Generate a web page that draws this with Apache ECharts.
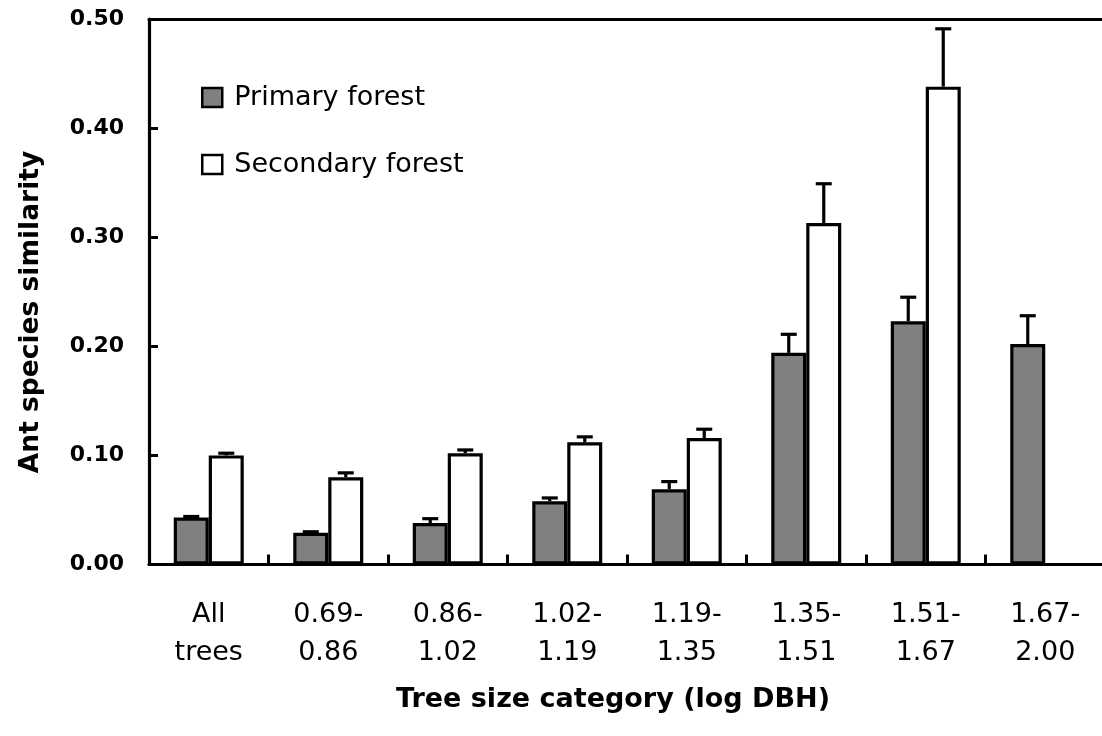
<!DOCTYPE html>
<html>
<head>
<meta charset="utf-8">
<script src="https://cdn.jsdelivr.net/npm/echarts@6/dist/echarts.min.js"></script>
<style>
html,body{margin:0;padding:0;background:#fff;overflow:hidden;}
#chart{width:1106px;height:736px;}
</style>
</head>
<body>
<div id="chart"></div>
<script>
// ---- data ----
const categories = ['All\ntrees', '0.69-\n0.86', '0.86-\n1.02', '1.02-\n1.19', '1.19-\n1.35', '1.35-\n1.51', '1.51-\n1.67', '1.67-\n2.00'];
const primaryForest = [0.043, 0.029, 0.038, 0.058, 0.069, 0.194, 0.223, 0.202];
const primaryErr = [0.001, 0.001, 0.004, 0.003, 0.007, 0.017, 0.022, 0.026];
const secondaryForest = [0.100, 0.080, 0.102, 0.112, 0.116, 0.313, 0.438, null];
const secondaryErr = [0.002, 0.004, 0.003, 0.005, 0.008, 0.036, 0.053, null];
const yTicks = [0, 0.1, 0.2, 0.3, 0.4, 0.5];
const seriesNames = ['Primary forest', 'Secondary forest'];
const yTitle = 'Ant species similarity';
const xTitle = 'Tree size category (log DBH)';

// ---- style ----
const BAR_W = 35;
const LINE_W = 3.2;
const CAP_HALF = 8;

function errData(vals, errs) {
  return vals.map((v, i) => v == null ? [i, null, null] : [i, v, errs[i]]);
}

function errRender(offsetSign) {
  return function (params, api) {
    const v = api.value(1);
    if (v == null || isNaN(v)) return;
    const idx = api.value(0);
    const e = api.value(2);
    const p0 = api.coord([idx, v]);
    const p1 = api.coord([idx, v + e]);
    const x = p0[0] + offsetSign * BAR_W / 2;
    const st = { stroke: '#000', lineWidth: LINE_W };
    return {
      type: 'group',
      children: [
        { type: 'line', shape: { x1: x, y1: p0[1], x2: x, y2: p1[1] }, style: st },
        { type: 'line', shape: { x1: x - CAP_HALF, y1: p1[1], x2: x + CAP_HALF, y2: p1[1] }, style: st }
      ]
    };
  };
}

const chart = echarts.init(document.getElementById('chart'), null, { renderer: 'canvas' });
chart.setOption({
  animation: false,
  backgroundColor: '#fff',
  grid: { left: 149, top: 19, right: 1, bottom: 171.5 },
  legend: {
    data: seriesNames,
    orient: 'vertical',
    left: 196, top: 79,
    itemWidth: 20, itemHeight: 19, itemGap: 40,
    icon: 'rect',
    itemStyle: { borderColor: '#000', borderWidth: 2.5 },
    textStyle: { fontFamily: 'DejaVu Sans', fontSize: 27, color: '#000', lineHeight: 27, padding: [0, 0, 0, 7] }
  },
  xAxis: [{
    type: 'category',
    data: categories,
    axisLine: { lineStyle: { color: '#000', width: LINE_W } },
    axisTick: { show: true, interval: 0, alignWithLabel: false, inside: true, length: 10, lineStyle: { color: '#000', width: 3 } },
    axisLabel: { interval: 0, fontFamily: 'DejaVu Sans', fontSize: 27, color: '#000', lineHeight: 38, margin: 31 },
    splitLine: { show: false }
  }, {
    type: 'category',
    position: 'top',
    data: categories,
    axisLine: { show: true, lineStyle: { color: '#000', width: LINE_W } },
    axisTick: { show: false },
    axisLabel: { show: false },
    splitLine: { show: false }
  }],
  yAxis: {
    type: 'value',
    min: yTicks[0], max: yTicks[yTicks.length - 1], interval: 0.1,
    axisLine: { show: true, lineStyle: { color: '#000', width: LINE_W } },
    axisTick: { show: true, inside: true, length: 9, lineStyle: { color: '#000', width: 3 } },
    axisLabel: { fontFamily: 'DejaVu Sans', fontWeight: 'bold', fontSize: 22, color: '#000', margin: 25,
      formatter: v => v.toFixed(2) },
    splitLine: { show: false }
  },
  graphic: [
    { type: 'text', x: 31, y: 312, rotation: Math.PI / 2,
      style: { text: yTitle, fontFamily: 'DejaVu Sans', fontWeight: 'bold', fontSize: 26.5, fill: '#000',
        textAlign: 'center', textVerticalAlign: 'middle' } },
    { type: 'text', x: 613, y: 700,
      style: { text: xTitle, fontFamily: 'DejaVu Sans', fontWeight: 'bold', fontSize: 27, fill: '#000',
        textAlign: 'center', textVerticalAlign: 'middle' } }
  ],
  series: [
    { name: seriesNames[0], type: 'bar', data: primaryForest, barWidth: BAR_W, barGap: '0%',
      itemStyle: { color: '#808080', borderColor: '#000', borderWidth: LINE_W } },
    { name: seriesNames[1], type: 'bar', data: secondaryForest, barWidth: BAR_W, barGap: '0%',
      itemStyle: { color: '#fff', borderColor: '#000', borderWidth: LINE_W } },
    { type: 'custom', renderItem: errRender(-1), data: errData(primaryForest, primaryErr),
      encode: { x: 0, y: 1 }, z: 5, silent: true },
    { type: 'custom', renderItem: errRender(1), data: errData(secondaryForest, secondaryErr),
      encode: { x: 0, y: 1 }, z: 5, silent: true }
  ]
});
</script>
</body>
</html>
